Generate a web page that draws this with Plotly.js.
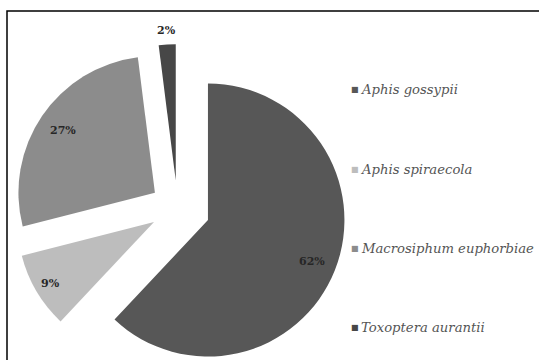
<!DOCTYPE html>
<html><head><meta charset="utf-8">
<script src="https://cdn.plot.ly/plotly-3.0.1.min.js"></script>
<style>html,body{margin:0;padding:0;overflow:hidden;background:#fff}#chart{width:539px;height:400px}</style>
</head><body><div id="chart"></div>
<script>
const species = ['Aphis gossypii','Aphis spiraecola','Macrosiphum euphorbiae','Toxoptera aurantii'];
const percents = [62, 9, 27, 2];
const sliceColors = ['#575757','#bdbdbd','#8c8c8c','#474747'];
const pulls = [0.24, 0.2, 0.2, 0.2];
const labelRadius = [0.82, 0.88, 0.81, 1.10];
const SERIF = 'DejaVu Serif';

const W = 539, H = 400;
const dom = {x:[0.0153,0.6433], y:[0.04,0.92]};
const rx = W*(dom.x[1]-dom.x[0])/2, ry = H*(dom.y[1]-dom.y[0])/2;
const R = Math.min(rx,ry)/(1+Math.max(...pulls));
const cx = W*(dom.x[0]+dom.x[1])/2, cy = H*(1-(dom.y[0]+dom.y[1])/2);
const total = percents.reduce((a,b)=>a+b,0);
let cum = 0;
const labelAnns = percents.map((v,i)=>{
  const mid = (cum + v/2)/total*2*Math.PI; cum += v;
  const d = (pulls[i]+labelRadius[i])*R;
  const px = cx + d*Math.sin(mid), py = cy - d*Math.cos(mid);
  return {xref:'paper', yref:'paper', x:px/W, y:1-py/H, text: '<b>'+Math.round(v/total*100)+'%</b>',
    showarrow:false, xanchor:'center', yanchor:'middle',
    font:{family:SERIF, size:11, color:'#262626'}};
});

const legendX = 355, legendY0 = 90, legendGap = 79;
const legendAnns = [];
species.forEach((s,i)=>{
  const py = legendY0 + i*legendGap;
  legendAnns.push({xref:'paper', yref:'paper', x:legendX/W, y:1-py/H, text:'■', showarrow:false,
    xanchor:'center', yanchor:'middle', font:{family:'DejaVu Sans', size:8, color:sliceColors[i]}});
  legendAnns.push({xref:'paper', yref:'paper', x:(legendX+4)/W, y:1-py/H, text:'<i>'+s+'</i>', showarrow:false,
    xanchor:'left', yanchor:'middle', font:{family:SERIF, size:13.2, color:'#555'}});
});

const data = [{
  type:'pie', labels:species, values:percents, sort:false, direction:'clockwise', rotation:0,
  pull:pulls, marker:{colors:sliceColors, line:{width:0}}, textinfo:'none', hoverinfo:'none',
  domain:dom, showlegend:false
}];

const layout = {
  width:W, height:H, margin:{l:0,r:0,t:0,b:0}, paper_bgcolor:'#fff', plot_bgcolor:'#fff',
  showlegend:false, font:{family:SERIF},
  annotations: labelAnns.concat(legendAnns),
  shapes:[{type:'rect', xref:'paper', yref:'paper', x0:7/W, x1:1.05, y0:-0.05, y1:1-11/H,
    line:{color:'#000', width:1.5}}]
};
Plotly.newPlot('chart', data, layout, {displayModeBar:false, staticPlot:true});
</script></body></html>
